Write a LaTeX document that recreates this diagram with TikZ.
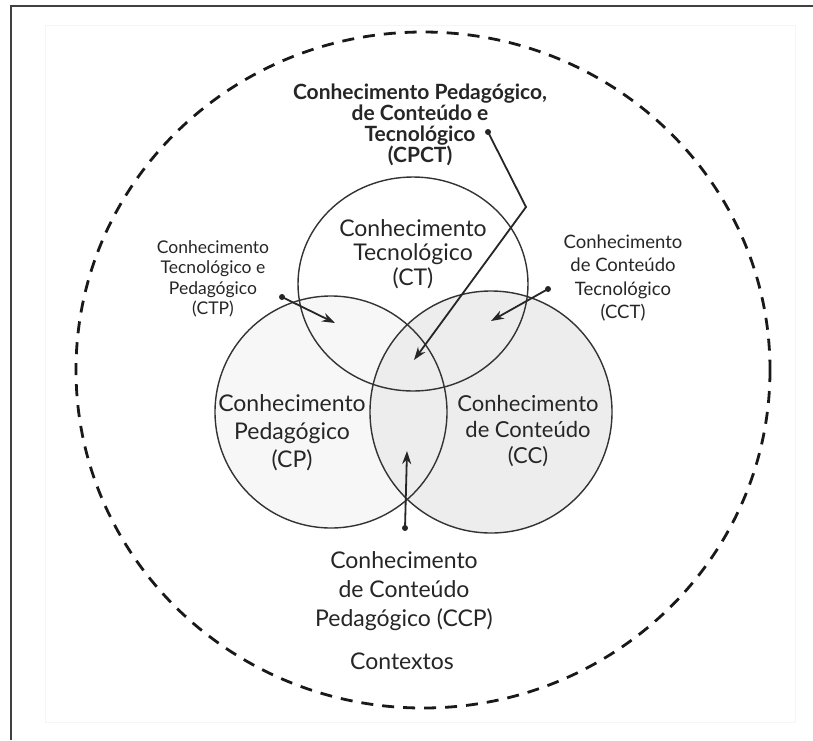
\documentclass[tikz,border=0pt]{standalone}
\usepackage{fontspec}
\setmainfont{Lato}
\usetikzlibrary{arrows.meta}
\begin{document}
\begin{tikzpicture}[x=1pt,y=-1pt,
  lbl/.style={align=center, inner sep=0pt, text=black!85},
  ring/.style={draw=black!80, line width=1.4pt},
  pointer/.style={draw=black!85, line width=1.8pt, -{Stealth[length=13pt,width=9pt]}},
  dotmark/.style={circle, fill=black!85, inner sep=0pt, minimum size=6pt}]

\useasboundingbox (0,0) rectangle (813,740);
\fill[white] (0,0) rectangle (813,740);

% page frame
\draw[black!75, line width=2pt] (11,740) -- (11,6) -- (813,6);
\draw[black!4, line width=1pt] (45,25) rectangle (795,722);

% contexts boundary
\draw[black!90, line width=2.8pt, dash pattern=on 12pt off 9pt]
  (423,370) ellipse [x radius=347, y radius=338];

% knowledge circles
\fill[black!3] (331,412) circle [radius=116];
\fill[black!7] (491,412) circle [radius=121];
\draw[ring] (331,412) circle [radius=116];
\draw[ring] (491,412) circle [radius=121];
\draw[ring] (413,284) ellipse [x radius=115, y radius=107];

% circle labels
\node[lbl, font=\fontsize{23}{24.5}\selectfont] (ct) at (413,254)
  {Conhecimento\\Tecnológico\\(CT)};
\node[lbl, font=\fontsize{23}{28}\selectfont] (cp) at (292,433)
  {Conhecimento\\Pedagógico\\(CP)};
\node[lbl, font=\fontsize{22}{26}\selectfont] (cc) at (528,431)
  {Conhecimento\\de Conteúdo\\(CC)};

% intersection labels
\node[lbl, font=\fontsize{21}{21}\selectfont\bfseries] (cpct) at (420,125)
  {Conhecimento Pedagógico,\\de Conteúdo e\\Tecnológico\\(CPCT)};
\node[lbl, font=\fontsize{17.5}{20.5}\selectfont] (ctp) at (213,279)
  {Conhecimento\\Tecnológico e\\Pedagógico\\(CTP)};
\node[lbl, font=\fontsize{18.5}{23.5}\selectfont] (cct) at (623,278)
  {Conhecimento\\de Conteúdo\\Tecnológico\\(CCT)};
\node[lbl, font=\fontsize{23}{29}\selectfont] (ccp) at (404,591)
  {Conhecimento\\de Conteúdo\\Pedagógico (CCP)};
\node[lbl, font=\fontsize{23}{24}\selectfont] (ctx) at (402,661) {Contextos};

% pointer anchors
\node[dotmark] (dcpct) at (488,132) {};
\coordinate (bend) at (526,207);
\coordinate (tcpct) at (414,360);
\node[dotmark] (dctp) at (282,297) {};
\coordinate (tctp) at (335,323);
\node[dotmark] (dcct) at (548,289) {};
\coordinate (tcct) at (491,321);
\node[dotmark] (dccp) at (405,528) {};
\coordinate (tccp) at (407,451);

% pointers
\draw[pointer] (dcpct.center) -- (bend) -- (tcpct);
\draw[pointer] (dctp.center) -- (tctp);
\draw[pointer] (dcct.center) -- (tcct);
\draw[pointer] (dccp.center) -- (tccp);
\end{tikzpicture}
\end{document}
